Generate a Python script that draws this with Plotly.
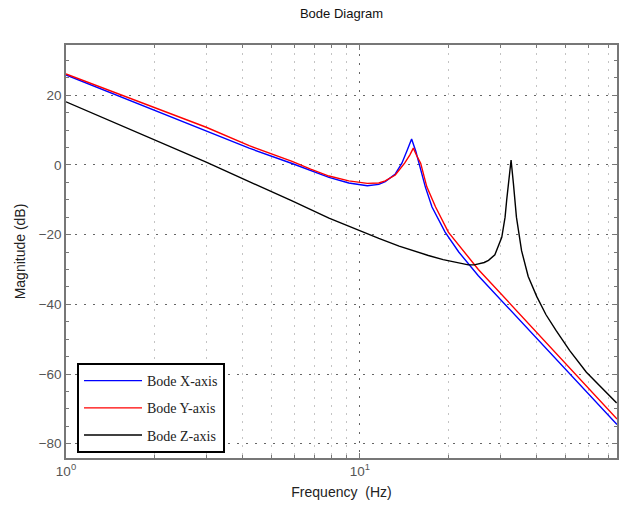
import plotly.graph_objects as go

# ---- data ----
freq_x = [1, 2, 3, 4.2, 5.88, 6.8, 7.85, 9.17, 10.6, 11.6, 12.2, 13.2, 13.9, 14.5,
          15.0, 15.5, 15.9, 16.7, 17.6, 19.5, 21.7, 25.3, 75]
mag_x = [25.8, 15.7, 9.8, 4.8, 0.4, -1.7, -3.6, -5.2, -6.0, -5.6, -4.8, -2.6, 0.5, 4.3,
         7.4, 3.9, 0.5, -6.3, -12.1, -19.3, -25.0, -31.8, -74.5]

freq_y = [1, 2, 3, 4.2, 5.88, 6.8, 7.85, 9.17, 10.6, 11.6, 12.2, 13.2, 14.2, 14.8,
          15.2, 15.6, 16.1, 16.9, 18.1, 20.0, 22.5, 25.3, 75]
mag_y = [26.1, 16.4, 10.8, 5.5, 1.0, -1.2, -3.2, -4.6, -5.3, -5.2, -4.6, -2.9, 0.5, 2.9,
         4.8, 2.7, 0.5, -6.3, -12.1, -19.3, -24.6, -30.0, -72.9]

freq_z = [1, 2, 3, 4.2, 5.88, 7.85, 10, 11.6, 13.6, 15.5, 17.1, 19.2, 21.7, 23.4, 24.5,
          25.3, 26.5, 27.4, 28.8, 30.4, 31.2, 31.6, 32.0, 32.7, 33.3, 33.7, 34.1, 35.5,
          37.4, 40.0, 43.0, 46.5, 51.7, 59.0, 74.8]
mag_z = [18.1, 7.2, 0.8, -4.8, -10.3, -15.3, -19.0, -21.1, -23.3, -24.9, -26.0, -27.2,
         -28.2, -28.7, -28.7, -28.5, -28.0, -27.4, -25.8, -20.8, -15.0, -10.0, -5.3, 1.4,
         -5.3, -10.0, -15.0, -24.6, -32.0, -37.8, -43.0, -47.5, -53.2, -59.5, -68.3]

series_names = ["Bode X-axis", "Bode Y-axis", "Bode Z-axis"]
series_colors = ["#0000ff", "#ff0000", "#000000"]

x_tickvals = [1, 10]
x_ticktext = ["10<sup>0</sup>", "10<sup>1</sup>"]
x_minor_vals = [2, 3, 4, 5, 6, 7, 8, 9, 20, 30, 40, 50, 60, 70]
y_tickvals = [-80, -60, -40, -20, 0, 20]

fig = go.Figure()
for i, (fx, my) in enumerate([(freq_x, mag_x), (freq_y, mag_y), (freq_z, mag_z)]):
    fig.add_trace(go.Scatter(
        x=fx, y=my, mode="lines", name=series_names[i],
        line=dict(color=series_colors[i], width=1.4),
        legendgroup=f"g{i}",
    ))

axis_col = "#777777"
sans = "Liberation Sans, Arial, sans-serif"

fig.update_layout(
    width=621, height=517,
    margin=dict(l=66, r=2, t=45, b=59),
    paper_bgcolor="white", plot_bgcolor="white",
    title=dict(text="Bode Diagram", x=0.5, xref="paper", xanchor="center",
               y=1 - 13 / 517, yref="container", yanchor="middle",
               font=dict(family=sans, size=13, color="#111111")),
    showlegend=True,
    legend=dict(
        x=0.02, y=0.012, xanchor="left", yanchor="bottom",
        bgcolor="white", bordercolor="black", borderwidth=2,
        font=dict(family="Liberation Serif, Times New Roman, serif", size=14, color="#222222"),
        tracegroupgap=6,
        itemwidth=58,
    ),
    xaxis=dict(
        type="log", range=[0, 1.875],
        tickvals=x_tickvals, ticktext=x_ticktext,
        ticks="inside", ticklen=5, tickcolor=axis_col, tickwidth=1,
        showline=True, linecolor=axis_col, linewidth=1.5, mirror="ticks",
        showgrid=True, gridcolor="#666666", griddash="2px,7px", gridwidth=1,
        minor=dict(tickvals=x_minor_vals, ticks="inside", ticklen=3, tickcolor=axis_col,
                   showgrid=True, gridcolor="#c4c4c4", griddash="2px,6px", gridwidth=1),
        tickfont=dict(family=sans, size=13.5, color="#555555"),
        title=dict(text="Frequency\u00a0 (Hz)", standoff=9,
                   font=dict(family=sans, size=14, color="#222222")),
        zeroline=False,
    ),
    yaxis=dict(
        range=[-84.1, 34.4],
        tickvals=y_tickvals,
        ticks="inside", ticklen=5, tickcolor=axis_col, tickwidth=1,
        showline=True, linecolor=axis_col, linewidth=1.5, mirror="ticks",
        showgrid=True, gridcolor="#666666", griddash="2px,7px", gridwidth=1,
        minor=dict(dtick=5, ticks="inside", ticklen=3, tickcolor=axis_col, showgrid=False),
        tickfont=dict(family=sans, size=13.5, color="#555555"),
        title=dict(text="Magnitude (dB)", standoff=10,
                   font=dict(family=sans, size=14, color="#222222")),
        zeroline=False,
    ),
)

fig.write_html("out.html", config={"displayModeBar": False},
               post_script="document.body.style.margin='0px';")
